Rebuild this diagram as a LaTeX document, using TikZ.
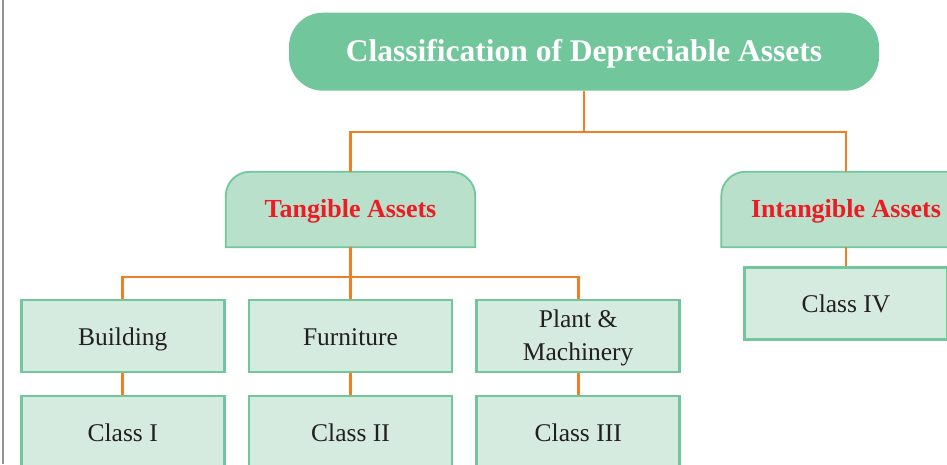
\documentclass[tikz,border=0pt]{standalone}
\usepackage{fontspec}
\setmainfont{Liberation Serif}
\usetikzlibrary{backgrounds}
\definecolor{titlegreen}{HTML}{72C69C}
\definecolor{tabgreen}{HTML}{B8E0CB}
\definecolor{boxgreen}{HTML}{D5EBDF}
\definecolor{linkorange}{HTML}{F07E22}
\definecolor{headred}{HTML}{ED1C24}
\definecolor{inkdark}{HTML}{231F20}
\begin{document}
\begin{tikzpicture}[x=1pt,y=1pt,
  titlebox/.style={rectangle, rounded corners=34pt, fill=titlegreen, text=white,
    minimum width=590pt, minimum height=78pt, inner sep=0pt,
    text height=20pt, text depth=0pt,
    font=\fontsize{31.5}{36}\selectfont\bfseries},
  tabbox/.style={rectangle, minimum width=249pt, minimum height=75pt, inner sep=0pt,
    text height=15.6pt, text depth=0pt,
    text=headred, font=\fontsize{26}{30}\selectfont\bfseries},
  itembox/.style={rectangle, draw=titlegreen, line width=2.9pt, fill=boxgreen,
    minimum width=203pt, minimum height=72pt, inner sep=0pt,
    text=inkdark, font=\fontsize{25.5}{32.5}\selectfont},
  oneline/.style={text height=18.4pt, text depth=0pt},
  twoline/.style={text height=0pt, text depth=16.6pt},
  link/.style={draw=linkorange, line width=2.8pt},
  tabshape/.style={draw=titlegreen, line width=1.8pt, fill=tabgreen}
]
\useasboundingbox (0,0) rectangle (947,-464);
\clip (0,0) rectangle (947,-464);

% frame rule at the left edge
\draw[gray!85, line width=1.6pt] (3,0) -- (3,-464);

% headings
\node[titlebox] (title) at (584,-51.7) {Classification of Depreciable Assets};
\node[tabbox] (tang) at (350.5,-209.5) {Tangible Assets};
\node[tabbox] (intang) at (846,-209.5) {Intangible Assets};

% tab outlines with rounded upper corners
\begin{scope}[on background layer]
  \foreach \n in {tang,intang}{
    \draw[tabshape] (\n.south west) -- ([yshift=-24pt]\n.north west)
      arc[start angle=180, end angle=90, radius=24pt]
      -- ([xshift=-24pt]\n.north east)
      arc[start angle=90, end angle=0, radius=24pt]
      -- (\n.south east) -- cycle;
  }
\end{scope}

% asset groups and their classes
\node[itembox, oneline] (bld) at (122.7,-336) {Building};
\node[itembox, oneline] (fur) at (350.5,-336) {Furniture};
\node[itembox, twoline] (plt) at (578.2,-336)
  {\smash{\begin{tabular}[t]{@{}c@{}}Plant \&\\Machinery\end{tabular}}};
\node[itembox, oneline] (c1) at (122.7,-432) {Class I};
\node[itembox, oneline] (c2) at (350.5,-432) {Class II};
\node[itembox, oneline] (c3) at (578.2,-432) {Class III};
\node[itembox, oneline] (c4) at (846,-303.3) {Class IV};

% connectors
\coordinate (top) at (584,-131.7);
\coordinate (mid) at (350.5,-277);
\draw[link, line width=2.2pt] (title.south) -- (top);
\draw[link, line width=2.2pt] (tang.north) |- (top) -| (intang.north);
\draw[link] (tang.south) -- (mid);
\draw[link] (bld.north) |- (mid) -| (plt.north);
\draw[link] (mid) -- (fur.north);
\draw[link, line width=2.2pt] (intang.south) -- (c4.north);
\draw[link] (bld.south) -- (c1.north);
\draw[link] (fur.south) -- (c2.north);
\draw[link] (plt.south) -- (c3.north);
\end{tikzpicture}
\end{document}
